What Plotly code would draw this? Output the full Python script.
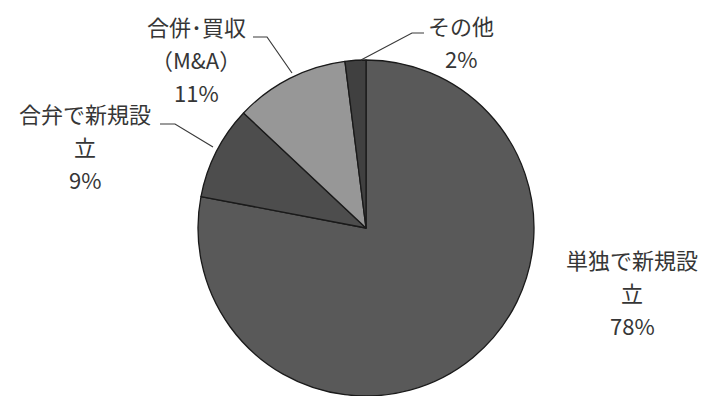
import plotly.graph_objects as go

# Share of entry modes (clockwise from 12 o'clock)
categories = ["単独で新規設立", "合弁で新規設立", "合併・買収（M&A）", "その他"]
shares = [78, 9, 11, 2]
slice_colors = ["#595959", "#4d4d4d", "#979797", "#404040"]

# Label lines per category, as drawn next to the pie
label_lines = {
    "単独で新規設立": ["単独で新規設", "立", f"{shares[0]}%"],
    "合弁で新規設立": ["合弁で新規設", "立", f"{shares[1]}%"],
    "合併・買収（M&A）": ["合併･買収", "（M&A）", f"{shares[2]}%"],
    "その他": ["その他", f"{shares[3]}%"],
}

W, H = 708, 396
FONT = "Noto Sans CJK JP, Noto Sans, sans-serif"
TEXT_COLOR = "#363636"
LINE_GAP = 33


def px(x):
    return x / W


def py(y):
    return 1 - y / H


fig = go.Figure(
    go.Pie(
        labels=categories,
        values=shares,
        sort=False,
        direction="clockwise",
        rotation=0,
        marker=dict(colors=slice_colors, line=dict(color="#1a1a1a", width=1.3)),
        textinfo="none",
        hoverinfo="label+percent",
        showlegend=False,
        domain=dict(x=[px(198), px(534)], y=[0, py(60)]),
    )
)

# label anchor: centre x and first-line y, in pixels
label_anchor = {
    "単独で新規設立": (632, 259),
    "合弁で新規設立": (85, 113),
    "合併・買収（M&A）": (196, 26),
    "その他": (461, 25),
}

annotations = []
for cat in categories:
    cx, cy = label_anchor[cat]
    for i, line in enumerate(label_lines[cat]):
        annotations.append(
            dict(
                x=px(cx), y=py(cy + i * LINE_GAP), xref="paper", yref="paper",
                text=line, showarrow=False, xanchor="center", yanchor="middle",
                font=dict(family=FONT, size=22, color=TEXT_COLOR),
            )
        )

# leader lines from labels to slice edges
leaders = [
    [(253, 37), (267, 37), (292, 73)],
    [(424, 33), (412, 33), (361, 60)],
    [(160, 124), (175, 124), (213, 147)],
]

shapes = []
for pts in leaders:
    path = "M " + " L ".join(f"{px(x)} {py(y)}" for x, y in pts)
    shapes.append(
        dict(type="path", path=path, xref="paper", yref="paper",
             line=dict(color="#3a3a3a", width=1.2))
    )

fig.update_layout(
    width=W, height=H,
    margin=dict(l=0, r=0, t=0, b=0),
    paper_bgcolor="white", plot_bgcolor="white",
    annotations=annotations, shapes=shapes,
)

fig.write_html("out.html")
